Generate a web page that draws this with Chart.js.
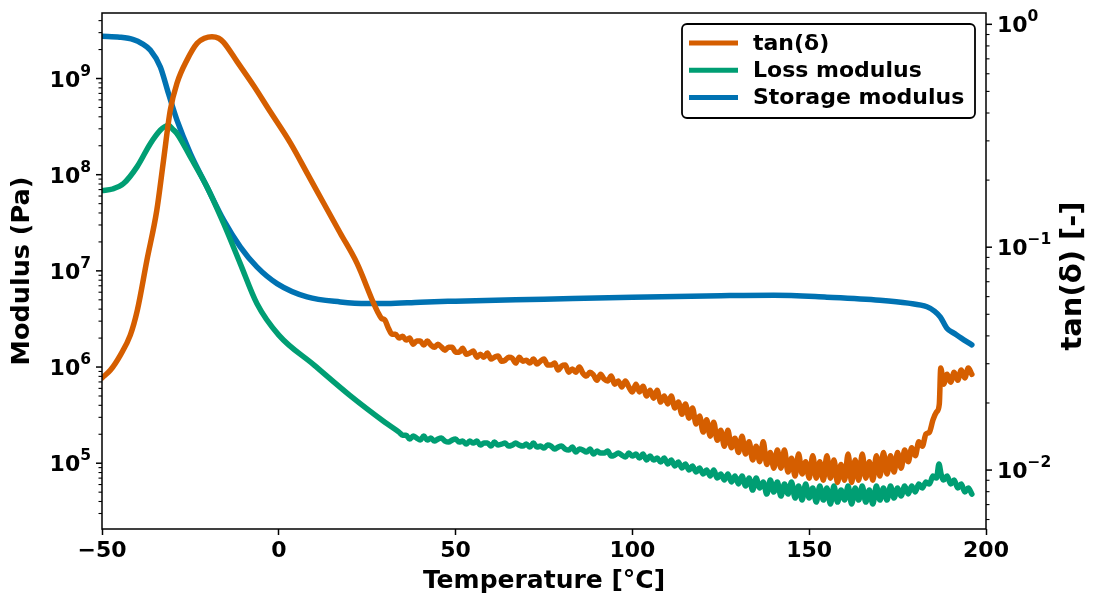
<!DOCTYPE html>
<html>
<head>
<meta charset="utf-8">
<script src="https://cdn.jsdelivr.net/npm/chart.js@4.4.1/dist/chart.umd.min.js"></script>
<style>
  html, body { margin: 0; padding: 0; background: #fff; }
</style>
</head>
<body>
<canvas id="dmaChart" width="1094" height="601"></canvas>
<script>
// DMA sweep: tan(delta) on the right axis, moduli on the left
const tempTan = [-50, -47.6, -44.8, -42, -40, -37.3, -34.5, -32.6, -30.7, -28.8, -26, -23.1, -21, -18.9, -17, -15.6, -11.8, -7.1, -2.4, 3.3, 8, 12.7, 17.4, 22.1, 26.8,
  28, 29, 30, 31, 32, 33, 34, 35, 36, 37, 38, 39, 40, 41, 42, 43, 44, 45, 46, 47, 48, 49, 50,
  51, 52, 53, 54, 55, 56, 57, 58, 59, 60, 61, 62, 63, 64, 65, 66, 67, 68, 69, 70,
  71, 72, 73, 74, 75, 76, 77, 78, 79, 80, 81, 82, 83, 84, 85, 86, 87, 88, 89, 90,
  91, 92, 93, 94, 95, 96, 97, 98, 99, 100, 101, 102, 103, 104, 105, 106, 107, 108, 109, 110,
  111, 112, 113, 114, 115, 116, 117, 118, 119, 120, 121, 122, 123, 124, 125, 126, 127, 128, 129, 130,
  131, 132, 133, 134, 135, 136, 137, 138, 139, 140, 141, 142, 143, 144, 145, 146, 147, 148, 149, 150,
  151, 152, 153, 154, 155, 156, 157, 158, 159, 160, 161, 162, 163, 164, 165, 166, 167, 168, 169, 170,
  171, 172, 173, 174, 175, 176, 177, 178, 179, 180, 181, 182, 183, 184, 185, 186, 186.8, 187.2,
  188, 189, 190, 191, 192, 193, 194, 195, 196];
const tanDelta = [0.0259, 0.0281, 0.0328, 0.0403, 0.0522, 0.0874, 0.1465, 0.2455, 0.411, 0.544, 0.690, 0.822, 0.866, 0.880, 0.866, 0.830, 0.680, 0.530, 0.405, 0.293, 0.215, 0.1575, 0.1155, 0.0848, 0.0561,
  0.0511, 0.0480, 0.0471, 0.0433, 0.0407, 0.0407, 0.0391, 0.0399, 0.0383, 0.0391, 0.0367, 0.0379, 0.0379, 0.0364, 0.0379, 0.0364, 0.0356, 0.0367, 0.0356, 0.0345, 0.0356, 0.0356, 0.0338,
  0.0338, 0.0352, 0.0331, 0.0335, 0.0342, 0.0321, 0.0331, 0.0321, 0.0335, 0.0315, 0.0321, 0.0325, 0.0308, 0.0311, 0.0321, 0.0318, 0.0302, 0.0321, 0.0308, 0.0311,
  0.0302, 0.0315, 0.0299, 0.0308, 0.0315, 0.0296, 0.0296, 0.0302, 0.0281, 0.0293, 0.0296, 0.0275, 0.0284, 0.0275, 0.0290, 0.0272, 0.0264, 0.0275, 0.0267, 0.0253,
  0.0269, 0.0256, 0.0251, 0.0264, 0.0243, 0.0251, 0.0236, 0.0251, 0.0236, 0.0224, 0.0243, 0.0224, 0.0238, 0.0215, 0.0228, 0.0210, 0.0228, 0.0202, 0.0215, 0.0198,
  0.0215, 0.0190, 0.0202, 0.0178, 0.0198, 0.0171, 0.0190, 0.0161, 0.0175, 0.0148, 0.0168, 0.0142, 0.0164, 0.0136, 0.0151, 0.0128, 0.0151, 0.0126, 0.0139, 0.0120,
  0.0142, 0.0118, 0.0134, 0.0111, 0.0128, 0.0109, 0.0134, 0.0106, 0.0120, 0.0102, 0.0123, 0.0102, 0.0123, 0.0098, 0.0113, 0.0094, 0.0118, 0.0096, 0.0109, 0.0092,
  0.0116, 0.0092, 0.0109, 0.0090, 0.0116, 0.0092, 0.0111, 0.0088, 0.0106, 0.0090, 0.0118, 0.0088, 0.0111, 0.0090, 0.0118, 0.0092, 0.0109, 0.0090, 0.0116, 0.0094,
  0.0120, 0.0096, 0.0116, 0.0098, 0.0120, 0.0102, 0.0123, 0.0109, 0.0126, 0.0116, 0.0134, 0.0128, 0.0145, 0.0148, 0.0168, 0.0182, 0.0198, 0.0287,
  0.0243, 0.0269, 0.0248, 0.0275, 0.0253, 0.0281, 0.0259, 0.0287, 0.0269];

const tempLoss = [-50, -47, -43.9, -40.1, -36.3, -33.5, -32.3, -31.2, -30, -28.8, -25, -20.3, -15.6, -10.9, -6.2, 0, 10, 20, 30,
  34, 35, 36, 37, 38, 39, 40, 41, 42, 43, 44, 45, 46, 47, 48, 49, 50,
  51, 52, 53, 54, 55, 56, 57, 58, 59, 60, 61, 62, 63, 64, 65, 66, 67, 68, 69, 70,
  71, 72, 73, 74, 75, 76, 77, 78, 79, 80, 81, 82, 83, 84, 85, 86, 87, 88, 89, 90,
  91, 92, 93, 94, 95, 96, 97, 98, 99, 100, 101, 102, 103, 104, 105, 106, 107, 108, 109, 110,
  111, 112, 113, 114, 115, 116, 117, 118, 119, 120, 121, 122, 123, 124, 125, 126, 127, 128, 129, 130,
  131, 132, 133, 134, 135, 136, 137, 138, 139, 140, 141, 142, 143, 144, 145, 146, 147, 148, 149, 150,
  151, 152, 153, 154, 155, 156, 157, 158, 159, 160, 161, 162, 163, 164, 165, 166, 167, 168, 169, 170,
  171, 172, 173, 174, 175, 176, 177, 178, 179, 180, 181, 182, 183, 184, 185, 186, 186.7, 187.3,
  188, 189, 190, 191, 192, 193, 194, 195, 196];
const lossModulus = [6.84e7, 7.1e7, 8.09e7, 1.205e8, 2.11e8, 2.90e8, 3.15e8, 3.27e8, 2.97e8, 2.68e8, 1.53e8, 7.46e7, 3.11e7, 1.19e7, 4.58e6, 2.15e6, 1.047e6, 5.11e5, 2.67e5,
  2.105e5, 1.959e5, 1.959e5, 1.781e5, 1.913e5, 1.824e5, 1.739e5, 1.913e5, 1.739e5, 1.824e5, 1.698e5, 1.781e5, 1.824e5, 1.698e5, 1.657e5, 1.739e5, 1.781e5,
  1.657e5, 1.698e5, 1.580e5, 1.698e5, 1.618e5, 1.698e5, 1.543e5, 1.618e5, 1.618e5, 1.506e5, 1.657e5, 1.543e5, 1.580e5, 1.618e5, 1.506e5, 1.543e5, 1.618e5, 1.543e5, 1.506e5, 1.580e5,
  1.471e5, 1.618e5, 1.471e5, 1.506e5, 1.436e5, 1.543e5, 1.506e5, 1.402e5, 1.471e5, 1.506e5, 1.402e5, 1.369e5, 1.471e5, 1.305e5, 1.402e5, 1.369e5, 1.305e5, 1.402e5, 1.244e5, 1.337e5,
  1.274e5, 1.274e5, 1.337e5, 1.186e5, 1.215e5, 1.274e5, 1.215e5, 1.158e5, 1.274e5, 1.186e5, 1.244e5, 1.130e5, 1.244e5, 1.078e5, 1.186e5, 1.078e5, 1.130e5, 1.027e5, 1.130e5, 9.79e4,
  1.078e5, 9.34e4, 1.027e5, 8.90e4, 9.79e4, 8.48e4, 9.34e4, 8.09e4, 8.90e4, 7.71e4, 8.48e4, 7.35e4, 8.48e4, 7.00e4, 7.71e4, 6.68e4, 7.71e4, 6.36e4, 7.35e4, 6.07e4,
  7.35e4, 5.78e4, 7.00e4, 5.26e4, 7.00e4, 5.51e4, 6.36e4, 4.78e4, 6.68e4, 5.01e4, 6.36e4, 4.55e4, 6.07e4, 4.78e4, 6.36e4, 4.34e4, 5.78e4, 4.14e4, 6.07e4, 4.34e4,
  5.51e4, 3.94e4, 5.78e4, 4.14e4, 5.51e4, 3.76e4, 5.78e4, 3.94e4, 5.26e4, 4.14e4, 5.78e4, 3.76e4, 5.51e4, 4.14e4, 5.78e4, 3.94e4, 5.26e4, 3.76e4, 5.78e4, 4.14e4,
  5.51e4, 4.14e4, 5.78e4, 4.34e4, 5.51e4, 4.55e4, 5.78e4, 4.78e4, 5.78e4, 5.01e4, 6.07e4, 5.51e4, 6.36e4, 6.07e4, 7.35e4, 7.00e4, 9.79e4, 7.71e4,
  6.68e4, 7.35e4, 6.07e4, 6.68e4, 5.51e4, 6.07e4, 5.01e4, 5.51e4, 4.78e4];

const tempStorage = [-50, -45, -41.1, -38.7, -36.3, -33.5, -31.2, -28.8, -25, -20.3, -15.6, -10.9, -6.2, -0.5, 8, 17.4, 25, 30.6,
  40, 50, 75, 100, 125, 140, 155, 170, 178, 183.3, 185.5, 187.1, 189, 191, 193, 196];
const storageModulus = [2.75e9, 2.69e9, 2.54e9, 2.31e9, 1.97e9, 1.32e9, 6.98e8, 3.69e8, 1.66e8, 7.46e7, 3.37e7, 1.78e7, 1.10e7, 7.38e6, 5.36e6, 4.75e6, 4.57e6, 4.57e6,
  4.73e6, 4.84e6, 5.08e6, 5.33e6, 5.52e6, 5.59e6, 5.33e6, 4.96e6, 4.62e6, 4.23e6, 3.8e6, 3.31e6, 2.51e6, 2.24e6, 2.0e6, 1.70e6];

const seriesNames = ['tan(\u03b4)', 'Loss modulus', 'Storage modulus'];
const seriesColors = ['#D55E00', '#009E73', '#0072B2'];

const xTickValues = [-50, 0, 50, 100, 150, 200];
const xTickLabels = ['\u221250', '0', '50', '100', '150', '200'];
const leftTickValues = [1e5, 1e6, 1e7, 1e8, 1e9];
const leftTickExps = ['5', '6', '7', '8', '9'];
const rightTickValues = [0.01, 0.1, 1];
const rightTickExps = ['\u22122', '\u22121', '0'];

const xTitle = 'Temperature [\u00b0C]';
const leftTitle = 'Modulus (Pa)';
const rightTitle = 'tan(\u03b4) [-]';

const FONT = '"DejaVu Sans", sans-serif';

function pairs(xs, ys) {
    return xs.map((x, i) => ({ x, y: ys[i] }));
}

function drawLogAxis(ctx, scale, x0, dir, majors, exps) {
    const lo = Math.floor(Math.log10(scale.min));
    const hi = Math.ceil(Math.log10(scale.max));
    ctx.strokeStyle = '#000';
    ctx.fillStyle = '#000';
    // minor ticks
    ctx.lineWidth = 1.1;
    for (let e = lo; e <= hi; e++) {
        for (let k = 2; k <= 9; k++) {
            const v = k * Math.pow(10, e);
            if (v < scale.min || v > scale.max) continue;
            const y = scale.getPixelForValue(v);
            ctx.beginPath();
            ctx.moveTo(x0, y);
            ctx.lineTo(x0 + dir * 3.5, y);
            ctx.stroke();
        }
    }
    // major ticks + labels
    ctx.lineWidth = 1.5;
    majors.forEach((v, i) => {
        const y = scale.getPixelForValue(v);
        ctx.beginPath();
        ctx.moveTo(x0, y);
        ctx.lineTo(x0 + dir * 6, y);
        ctx.stroke();

        ctx.font = 'bold 22px ' + FONT;
        const bw = ctx.measureText('10').width;
        ctx.font = 'bold 15.5px ' + FONT;
        const ew = ctx.measureText(exps[i]).width;
        const xs = dir < 0 ? x0 - 11 - bw - ew : x0 + 11;
        ctx.textAlign = 'left';
        ctx.textBaseline = 'alphabetic';
        ctx.font = 'bold 22px ' + FONT;
        ctx.fillText('10', xs, y + 8);
        ctx.font = 'bold 15.5px ' + FONT;
        ctx.fillText(exps[i], xs + bw, y - 3);
    });
}

const framePlugin = {
    id: 'frame',
    afterDraw(chart) {
        const { ctx, chartArea: a, scales } = chart;
        ctx.save();

        // axes box
        ctx.strokeStyle = '#000';
        ctx.lineWidth = 1.5;
        ctx.strokeRect(a.left, a.top, a.right - a.left, a.bottom - a.top);

        drawLogAxis(ctx, scales.y, a.left, -1, leftTickValues, leftTickExps);
        drawLogAxis(ctx, scales.y2, a.right, 1, rightTickValues, rightTickExps);

        // right axis title, reads bottom to top
        ctx.save();
        ctx.translate(a.right + 87, (a.top + a.bottom) / 2 + 5);
        ctx.rotate(-Math.PI / 2);
        ctx.font = 'bold 29px ' + FONT;
        ctx.textAlign = 'center';
        ctx.textBaseline = 'middle';
        ctx.fillText(rightTitle, 0, 0);
        ctx.restore();

        // legend
        const bx = a.right - 304, by = a.top + 11, bw = 293, bh = 94;
        ctx.beginPath();
        ctx.roundRect(bx, by, bw, bh, 5);
        ctx.fillStyle = '#fff';
        ctx.fill();
        ctx.lineWidth = 1.8;
        ctx.strokeStyle = '#000';
        ctx.stroke();
        ctx.font = 'bold 22px ' + FONT;
        ctx.textAlign = 'left';
        ctx.textBaseline = 'middle';
        chart.data.datasets.forEach((ds, i) => {
            const ry = by + 19 + i * 27.3;
            ctx.strokeStyle = ds.borderColor;
            ctx.lineWidth = 5;
            ctx.beginPath();
            ctx.moveTo(bx + 7, ry);
            ctx.lineTo(bx + 56, ry);
            ctx.stroke();
            ctx.fillStyle = '#000';
            ctx.fillText(ds.label, bx + 71, ry + 1);
        });

        ctx.restore();
    }
};

const ctx = document.getElementById('dmaChart').getContext('2d');

new Chart(ctx, {
    type: 'line',
    data: {
        datasets: [
            { label: seriesNames[0], data: pairs(tempTan, tanDelta), borderColor: seriesColors[0], yAxisID: 'y2' },
            { label: seriesNames[1], data: pairs(tempLoss, lossModulus), borderColor: seriesColors[1], yAxisID: 'y' },
            { label: seriesNames[2], data: pairs(tempStorage, storageModulus), borderColor: seriesColors[2], yAxisID: 'y' },
        ]
    },
    options: {
        responsive: false,
        animation: false,
        layout: { padding: { top: 13, left: 0, right: 0, bottom: 0 } },
        elements: {
            point: { radius: 0 },
            line: { borderWidth: 5.5, cubicInterpolationMode: 'monotone', fill: false, borderJoinStyle: 'round', borderCapStyle: 'round' }
        },
        plugins: {
            legend: { display: false },
            tooltip: { enabled: false }
        },
        scales: {
            x: {
                type: 'linear',
                min: -50,
                max: 200,
                afterBuildTicks: s => { s.ticks = xTickValues.map(v => ({ value: v })); },
                afterFit: s => { s.height = 72; },
                ticks: {
                    callback: v => xTickLabels[xTickValues.indexOf(v)],
                    font: { family: FONT, size: 22, weight: 'bold' },
                    color: '#000',
                    padding: 3,
                    maxRotation: 0,
                    autoSkip: false
                },
                grid: { drawOnChartArea: false, tickLength: 6, tickWidth: 1.5, tickColor: '#000' },
                border: { display: false },
                title: {
                    display: true,
                    text: xTitle,
                    color: '#000',
                    font: { family: FONT, size: 25, weight: 'bold' },
                    padding: { top: 0, bottom: 5 }
                }
            },
            y: {
                type: 'logarithmic',
                position: 'left',
                min: 2.07e4,
                max: 4.8e9,
                ticks: { display: false },
                grid: { display: false },
                border: { display: false },
                afterFit: s => { s.width = 102; },
                title: {
                    display: true,
                    text: leftTitle,
                    color: '#000',
                    font: { family: FONT, size: 25.5, weight: 'bold' },
                    padding: { top: 7, bottom: 0 }
                }
            },
            y2: {
                type: 'logarithmic',
                position: 'right',
                min: 0.00544,
                max: 1.124,
                ticks: { display: false },
                grid: { display: false },
                border: { display: false },
                afterFit: s => { s.width = 108; }
            }
        }
    },
    plugins: [framePlugin]
});
</script>
</body>
</html>
